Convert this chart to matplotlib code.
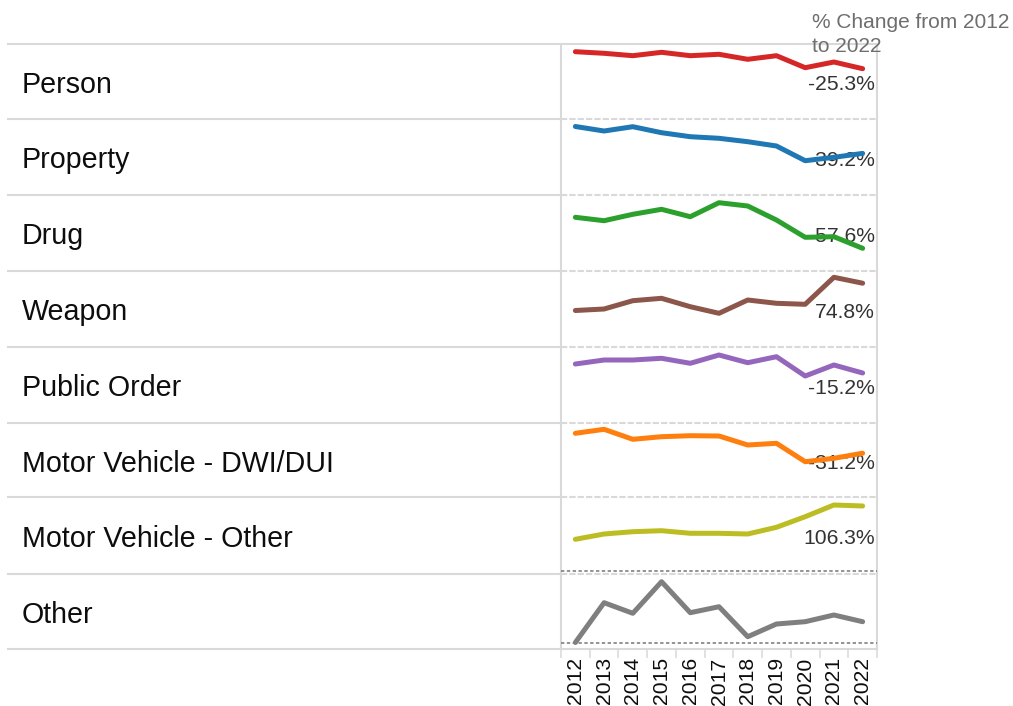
import numpy as np
import matplotlib
matplotlib.use('Agg')
import matplotlib.pyplot as plt

plt.rcParams['font.family'] = ['Liberation Sans', 'DejaVu Sans']

years = list(range(2012, 2023))
categories = ['Person', 'Property', 'Drug', 'Weapon', 'Public Order',
              'Motor Vehicle - DWI/DUI', 'Motor Vehicle - Other', 'Other']
colors = ['#d62728', '#1f77b4', '#2ca02c', '#8c564b', '#9467bd',
          '#ff7f0e', '#bcbd22', '#7f7f7f']

# values (relative units, each row has its own scale)
person = [67.3, 65.7, 63.3, 66.7, 63.3, 64.7, 59.7, 63.3, 51.3, 57.0, 50.3]
property_ = [68.5, 64.0, 68.3, 62.3, 58.3, 56.7, 53.3, 49.0, 34.3, 37.7, 41.6]
drug = [53.7, 50.3, 56.7, 61.7, 54.3, 68.3, 65.0, 51.0, 33.7, 34.3, 22.7]
weapon = [36.5, 38.0, 46.3, 48.7, 40.3, 33.7, 47.0, 43.7, 42.7, 69.7, 63.8]
public_order = [59.0, 63.0, 63.0, 64.7, 59.7, 68.0, 60.3, 66.3, 47.0, 58.0, 50.0]
dwi_dui = [63.7, 67.7, 57.7, 60.3, 61.3, 61.0, 52.0, 53.7, 35.3, 38.7, 43.8]
mv_other = [31.3, 36.6, 38.9, 39.9, 37.3, 37.3, 36.6, 43.3, 53.9, 65.6, 64.6]
other = [0.0, 39.8, 29.2, 60.8, 29.8, 35.8, 5.8, 18.5, 20.8, 27.5, 20.8]
series = [person, property_, drug, weapon, public_order, dwi_dui, mv_other, other]
pct_labels = ['-25.3%', '-39.2%', '-57.6%', '74.8%', '-15.2%', '-31.2%', '106.3%', '']

W, H = 1013, 706
row_edges = [44, 119, 195, 271, 347, 423, 497, 574, 649]
zero_px = [119, 195, 271, 347, 423, 497, 570.6, 642.5]
x_left, x_right = 561, 877
grid_col = '#d9d9d9'

fig = plt.figure(figsize=(W / 100, H / 100), dpi=100)
bg = fig.add_axes([0, 0, 1, 1])
bg.set_xlim(0, W)
bg.set_ylim(H, 0)
bg.axis('off')

# table lines
bg.plot([8, x_right], [row_edges[0]] * 2, color=grid_col, lw=1.5)
bg.plot([8, x_right], [row_edges[-1]] * 2, color=grid_col, lw=1.5)
for y in row_edges[1:-1]:
    bg.plot([8, x_left], [y, y], color=grid_col, lw=1.5)
    bg.plot([x_left, x_right], [y, y], color=grid_col, lw=1.5, ls=(0, (3, 1)))
for x in [x_left, x_right]:
    bg.plot([x, x], [row_edges[0], row_edges[-1]], color=grid_col, lw=1.5)

bg.text(812, 28, '% Change from 2012', fontsize=15, color='#6e6e6e', ha='left', va='baseline')
bg.text(812, 52.5, 'to 2022', fontsize=15, color='#6e6e6e', ha='left', va='baseline')

for i, cat in enumerate(categories):
    top, bot = row_edges[i], row_edges[i + 1]
    mid = (top + bot) / 2
    bg.text(22, mid + 11.5, cat, fontsize=20.6, color='#0d0d0d', ha='left', va='baseline')
    if pct_labels[i]:
        bg.text(875, mid + 9, pct_labels[i], fontsize=15.2, color='#333333',
                ha='right', va='baseline', zorder=5)

    ax = fig.add_axes([x_left / W, 1 - bot / H, (x_right - x_left) / W, (bot - top) / H])
    ax.patch.set_alpha(0)
    if bot - zero_px[i] > 1:
        ax.axhline(0, color='#808080', lw=1.2, ls=(0, (2, 1.5)))
    ax.plot(range(len(years)), series[i], color=colors[i], lw=3.6,
            solid_capstyle='round', solid_joinstyle='round')
    ax.set_xlim(-0.5, len(years) - 0.5)
    ax.set_ylim(-(bot - zero_px[i]), zero_px[i] - top)
    for s in ax.spines.values():
        s.set_visible(False)
    ax.set_yticks([])
    if i < len(categories) - 1:
        ax.set_xticks([])
    else:
        ax.set_xticks(range(len(years)))
        ax.set_xticklabels([str(y) for y in years], rotation=90, fontsize=15.2, color='#0d0d0d')
        ax.set_xticks(np.arange(-0.5, len(years), 1), minor=True)
        ax.tick_params(axis='x', which='major', length=0, pad=6)
        ax.tick_params(axis='x', which='minor', length=6.5, width=1.1, color=grid_col)

fig.savefig('out.png', dpi=100)
